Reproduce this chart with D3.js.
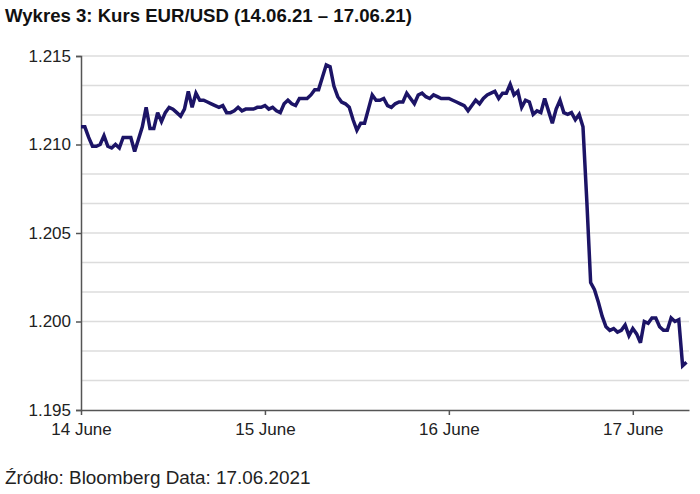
<!DOCTYPE html>
<html>
<head>
<meta charset="utf-8">
<script src="https://cdn.jsdelivr.net/npm/d3@7"></script>
<style>
  html, body { margin: 0; padding: 0; background: #fff; }
  svg { display: block; }
  text { font-family: "Liberation Sans", Arial, Helvetica, sans-serif; }
</style>
</head>
<body>
<svg id="chart" width="700" height="494"></svg>
<script>
// ---- data ----
const title = "Wykres 3: Kurs EUR/USD (14.06.21 \u2013 17.06.21)";
const source = "\u0179r\u00f3d\u0142o: Bloomberg Data: 17.06.2021";
const startTime = new Date(2021, 5, 14, 0, 0);   // first observation
const stepMinutes = 30;                           // observation interval
const eurusd = [
  1.2110, 1.2110, 1.2104, 1.2099, 1.2099, 1.2100, 1.2105, 1.2099, 1.2098, 1.2100,
  1.2098, 1.2104, 1.2104, 1.2104, 1.2096, 1.2103, 1.2110, 1.2121, 1.2109, 1.2109,
  1.2118, 1.2113, 1.2118, 1.2121, 1.2120, 1.2118, 1.2116, 1.2120, 1.2130, 1.2121,
  1.2129, 1.2125, 1.2125, 1.2124, 1.2123, 1.2122, 1.2121, 1.2122, 1.2118, 1.2118,
  1.2119, 1.2121, 1.2119, 1.2120, 1.2120, 1.2120, 1.2121, 1.2121, 1.2122, 1.2120,
  1.2121, 1.2119, 1.2118, 1.2123, 1.2125, 1.2123, 1.2122, 1.2126, 1.2126, 1.2126,
  1.2128, 1.2131, 1.2131, 1.2138, 1.2145, 1.2144, 1.2133, 1.2127, 1.2124, 1.2123,
  1.2121, 1.2114, 1.2108, 1.2112, 1.2112, 1.2120, 1.2128, 1.2125, 1.2125, 1.2126,
  1.2122, 1.2121, 1.2123, 1.2124, 1.2124, 1.2129, 1.2126, 1.2123, 1.2128, 1.2129,
  1.2127, 1.2126, 1.2128, 1.2127, 1.2126, 1.2126, 1.2126, 1.2125, 1.2124, 1.2123,
  1.2122, 1.2119, 1.2122, 1.2125, 1.2123, 1.2126, 1.2128, 1.2129, 1.2130, 1.2126,
  1.2129, 1.2129, 1.2134, 1.2128, 1.2130, 1.2121, 1.2125, 1.2124, 1.2117, 1.2119,
  1.2118, 1.2126, 1.2119, 1.2112, 1.2120, 1.2125, 1.2118, 1.2117, 1.2118, 1.2114,
  1.2117, 1.2110, 1.2068, 1.2022, 1.2018, 1.2011, 1.2003, 1.1997, 1.1995, 1.1996,
  1.1994, 1.1995, 1.1998, 1.1992, 1.1996, 1.1993, 1.1988, 1.2000, 1.1999, 1.2002,
  1.2002, 1.1997, 1.1995, 1.1995, 1.2002, 1.2000, 1.2001, 1.1975, 1.1977
];
const yTickValues = [1.195, 1.200, 1.205, 1.210, 1.215];
const xTickDates = [new Date(2021,5,14), new Date(2021,5,15), new Date(2021,5,16), new Date(2021,5,17)];
const xTickLabels = ["14 June", "15 June", "16 June", "17 June"];
const yDomain = [1.195, 1.215];
const xDomain = [new Date(2021,5,14,0,0), new Date(2021,5,17,7,20)];

// ---- build ----
const series = eurusd.map((v, i) => ({ t: new Date(startTime.getTime() + i * stepMinutes * 60000), v }));

const svg = d3.select("#chart");
const margin = { left: 81, right: 11, top: 56, bottom: 84 };
const W = 700, H = 494;

const x = d3.scaleTime().domain(xDomain).range([margin.left, W - margin.right]);
const y = d3.scaleLinear().domain(yDomain).range([H - margin.bottom, margin.top]);

// title
svg.append("text")
  .attr("x", 5).attr("y", 22)
  .attr("font-size", 18.6).attr("font-weight", "bold").attr("fill", "#111")
  .text(title);

// gridlines (every third of a label step)
const gridVals = d3.range(0, 13).map(k => yDomain[0] + k * (0.005 / 3));
svg.append("g").selectAll("line").data(gridVals.slice(1)).join("line")
  .attr("x1", margin.left).attr("x2", W - margin.right)
  .attr("y1", d => y(d)).attr("y2", d => y(d))
  .attr("stroke", "#dcdcdc").attr("stroke-width", 1.5);

// y axis
const yAxis = d3.axisLeft(y).tickValues(yTickValues).tickFormat(d3.format(".3f")).tickSize(5).tickPadding(5);
const gy = svg.append("g").attr("transform", `translate(${margin.left},0)`).call(yAxis);
gy.select(".domain").attr("stroke", "#555").attr("stroke-width", 1.5);
gy.selectAll(".tick line").attr("stroke", "#555").attr("stroke-width", 1.5);
gy.selectAll(".tick text").attr("font-size", 17).attr("fill", "#222")
  .attr("font-family", "'Liberation Sans', Arial, sans-serif");

// x axis
const xAxis = d3.axisBottom(x).tickValues(xTickDates)
  .tickFormat((d, i) => xTickLabels[i]).tickSize(5).tickPadding(8).tickSizeOuter(0);
const gx = svg.append("g").attr("transform", `translate(0,${H - margin.bottom})`).call(xAxis);
gx.select(".domain").attr("stroke", "#555").attr("stroke-width", 1.5);
gx.selectAll(".tick line").attr("stroke", "#555").attr("stroke-width", 1.5);
gx.selectAll(".tick text").attr("font-size", 17).attr("fill", "#222")
  .attr("font-family", "'Liberation Sans', Arial, sans-serif");

// line
const line = d3.line().x(d => x(d.t)).y(d => y(d.v));
svg.append("path").datum(series)
  .attr("d", line)
  .attr("fill", "none")
  .attr("stroke", "#1c1466")
  .attr("stroke-width", 3.5)
  .attr("stroke-linejoin", "miter")
  .attr("stroke-miterlimit", 3);

// source
svg.append("text")
  .attr("x", 5).attr("y", 484)
  .attr("font-size", 18.9).attr("fill", "#222")
  .text(source);
</script>
</body>
</html>
